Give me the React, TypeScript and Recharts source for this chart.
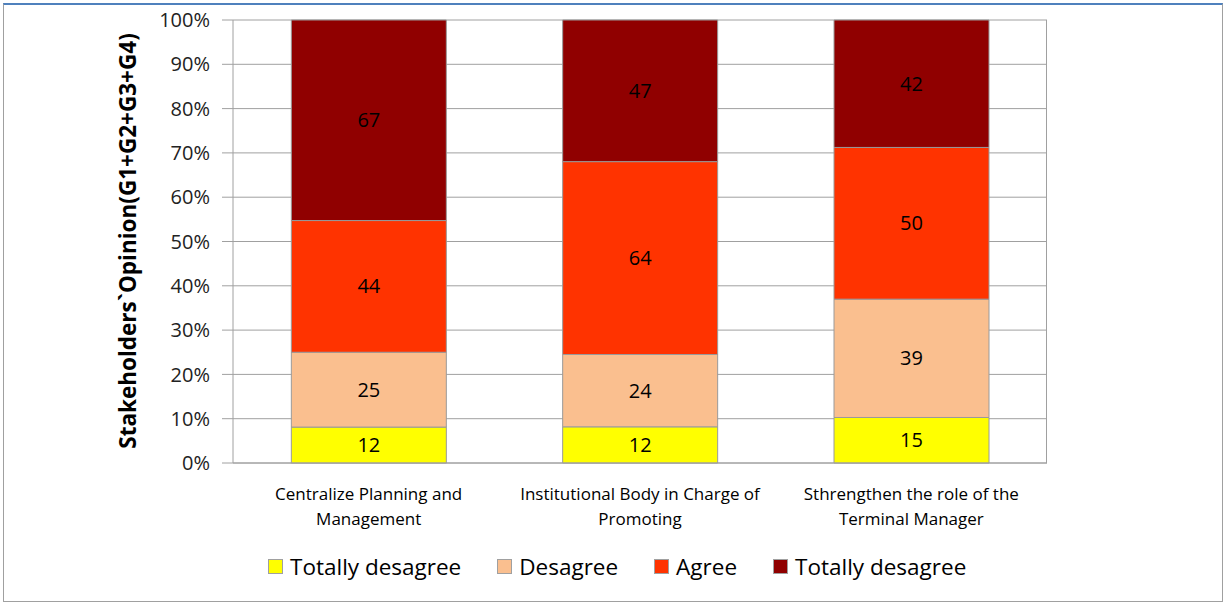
import React from 'react';
import { BarChart, Bar, XAxis, YAxis, CartesianGrid, LabelList } from 'recharts';

const categories = [
    'Centralize Planning and\nManagement',
    'Institutional Body in Charge of\nPromoting',
    'Sthrengthen the role of the\nTerminal Manager',
];
const totallyDisagree = [12, 12, 15];
const disagree = [25, 24, 39];
const agree = [44, 64, 50];
const totallyAgree = [67, 47, 42];
const yTicks = [0, 0.1, 0.2, 0.3, 0.4, 0.5, 0.6, 0.7, 0.8, 0.9, 1];

const series = [
    { key: 'td', name: 'Totally desagree', color: '#FFFF00' },
    { key: 'd', name: 'Desagree', color: '#FABF8F' },
    { key: 'a', name: 'Agree', color: '#FF3300' },
    { key: 'ta', name: 'Totally desagree', color: '#900000' },
];

const data = categories.map((name, i) => ({
    name,
    td: totallyDisagree[i],
    d: disagree[i],
    a: agree[i],
    ta: totallyAgree[i],
}));

const FONT = '"Liberation Sans Narrow", "Open Sans", sans-serif';
const AXIS_FONT = '"Open Sans", sans-serif';

function CategoryTick({ x, y, payload }: any) {
    const lines = String(payload.value).split('\n');
    return (
        <g transform={`translate(${x},${y})`}>
            {lines.map((line, i) => (
                <text key={i} x={0} y={29 + i * 25} textAnchor="middle" fontFamily={FONT} fontSize={17} fill="#000">
                    {line}
                </text>
            ))}
        </g>
    );
}

function Legend() {
    return (
        <div style={{ position: 'absolute', top: 551, left: 268, display: 'flex', alignItems: 'center', fontFamily: FONT, fontSize: 22.5, color: '#000' }}>
            {series.map((s, i) => (
                <div key={i} style={{ display: 'flex', alignItems: 'center', marginRight: 36 }}>
                    <span style={{ width: 13, height: 13, background: s.color, border: '1px solid #a0a0a0', marginRight: 7 }} />
                    <span>{s.name}</span>
                </div>
            ))}
        </div>
    );
}

export default function App() {
    return (
        <div style={{ position: 'absolute', left: 0, top: 0, width: 1226, height: 604, background: '#fff' }}>
            <div style={{ position: 'absolute', left: 3, top: 3, width: 1218, height: 596, borderTop: '2px solid #4F81BD', borderLeft: '1px solid #a0a0a0', borderRight: '1px solid #a0a0a0', borderBottom: '1px solid #a0a0a0' }} />
            <BarChart
                width={1226}
                height={604}
                data={data}
                stackOffset="expand"
                barCategoryGap="21.5%"
                margin={{ top: 20, right: 179, bottom: 111, left: 143 }}
                style={{ position: 'absolute', left: 0, top: 0 }}
            >
                <CartesianGrid vertical={false} stroke="#a0a0a0" strokeWidth={1} />
                <XAxis dataKey="name" height={30} tick={<CategoryTick />} tickLine={false} axisLine={{ stroke: '#a0a0a0' }} interval={0} />
                <YAxis
                    width={90}
                    domain={[0, 1]}
                    ticks={yTicks}
                    tickFormatter={(v: number) => `${Math.round(v * 100)}%`}
                    tick={{ fontFamily: AXIS_FONT, fontSize: 20, fill: '#222' }}
                    tickLine={{ stroke: '#a0a0a0' }}
                    tickSize={11}
                    tickMargin={12}
                    axisLine={{ stroke: '#a0a0a0' }}
                    interval={0}
                />
                {series.map((s) => (
                    <Bar key={s.key} dataKey={s.key} stackId="opinion" fill={s.color} stroke="#9a9a9a" strokeWidth={1} isAnimationActive={false}>
                        <LabelList dataKey={s.key} position="center" fontFamily={AXIS_FONT} fontSize={20} fill="#000" />
                    </Bar>
                ))}
            </BarChart>
            {/* right edge of the plot frame */}
            <div style={{ position: 'absolute', left: 1046, top: 20, width: 1, height: 443, background: '#a0a0a0' }} />
            <div
                style={{
                    position: 'absolute',
                    left: 127,
                    top: 241,
                    transform: 'translate(-50%, -50%) rotate(-90deg)',
                    whiteSpace: 'nowrap',
                    fontFamily: AXIS_FONT,
                    fontWeight: 700,
                    fontSize: 22.5,
                    color: '#000',
                }}
            >
                Stakeholders`Opinion(G1+G2+G3+G4)
            </div>
            <Legend />
        </div>
    );
}
